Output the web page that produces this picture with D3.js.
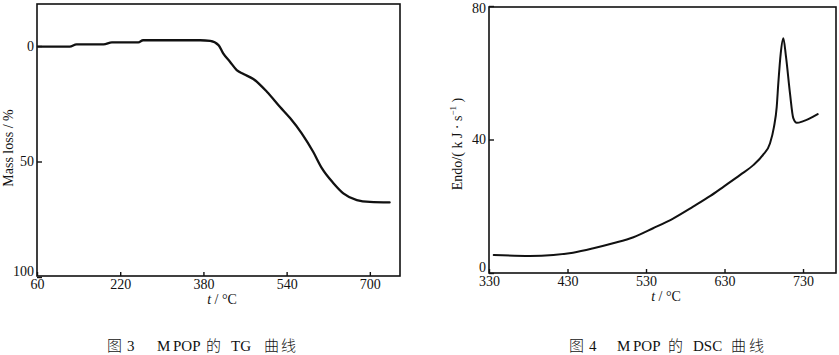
<!DOCTYPE html>
<html>
<head>
<meta charset="utf-8">
<script src="https://cdn.jsdelivr.net/npm/d3@7"></script>
<style>
  html, body { margin: 0; padding: 0; background: #fff; }
  svg { display: block; }
  text { font-family: "Liberation Serif", "DejaVu Serif", serif; fill: #111; }
</style>
</head>
<body>
<svg id="chart" width="839" height="355"></svg>
<script>
// ---- TG curve (Fig. 3) ----
const tgTemp = [62, 123, 136, 188, 204, 255, 264, 374, 393, 409, 418, 431, 444, 457, 476, 502, 527, 547, 569, 591, 608, 630, 649, 675, 700, 738];
const tgMass = [0.3, 0.3, -0.7, -0.7, -1.6, -1.6, -2.5, -2.5, -2.2, -0.4, 3.2, 6.8, 10.4, 12.1, 14.3, 19.8, 26.3, 31.3, 37.8, 45.8, 53, 59.4, 63.8, 66.7, 67.5, 67.7];
const tgXTicks = [60, 220, 380, 540, 700];
const tgYTicks = [0, 50, 100];

// ---- DSC curve (Fig. 4) ----
const dscTemp = [336, 382, 412, 437, 463, 488, 514, 539, 565, 590, 612, 629, 650, 667, 679, 688, 693, 696.5, 698.5, 701.6, 704.9, 708.3, 713.4, 717.6, 722, 730.4, 748.7];
const dscEndo = [5.4, 5.1, 5.4, 6.1, 7.4, 8.9, 10.7, 13.4, 16.4, 19.9, 23.1, 25.9, 29.4, 32.4, 35.4, 38.9, 43.8, 49.8, 56.8, 65.8, 70.3, 64.8, 53.8, 46.4, 45, 45.5, 47.6];
const dscXTicks = [330, 430, 530, 630, 730];
const dscYTicks = [0, 40, 80];

const svg = d3.select("#chart");

function panel(opts) {
  const g = svg.append("g");
  const x = d3.scaleLinear().domain(opts.xDomain).range([opts.left, opts.right]);
  const y = d3.scaleLinear().domain(opts.yDomain).range(opts.yRange);

  // frame
  g.append("rect")
    .attr("x", opts.left).attr("y", opts.top)
    .attr("width", opts.right - opts.left).attr("height", opts.bottom - opts.top)
    .attr("fill", "none").attr("stroke", "#111").attr("stroke-width", 1.6);

  // x axis
  const xa = g.append("g")
    .attr("transform", `translate(0,${opts.bottom})`)
    .call(d3.axisBottom(x).tickValues(opts.xTicks).tickSizeInner(-4).tickSizeOuter(0).tickPadding(3).tickFormat(d3.format("d")));
  xa.select(".domain").remove();
  xa.selectAll("line").attr("stroke", "#111").attr("stroke-width", 1.4);
  xa.selectAll("text").attr("font-size", 14).attr("font-family", "Liberation Serif").attr("fill", "#111");

  // y axis
  const ya = g.append("g")
    .attr("transform", `translate(${opts.left},0)`)
    .call(d3.axisLeft(y).tickValues(opts.yTicks).tickSizeInner(-5).tickSizeOuter(0).tickPadding(3).tickFormat(d3.format("d")));
  ya.select(".domain").remove();
  ya.selectAll("line").attr("stroke", "#111").attr("stroke-width", 1.4);
  ya.selectAll("text").attr("font-size", 14).attr("font-family", "Liberation Serif").attr("fill", "#111")
    .attr("dy", d => opts.yLabelShift(d));

  // curve
  const pts = opts.xs.map((t, i) => [t, opts.ys[i]]);
  g.append("path")
    .datum(pts)
    .attr("fill", "none").attr("stroke", "#111").attr("stroke-width", opts.lw)
    .attr("stroke-linejoin", "round").attr("stroke-linecap", "round")
    .attr("d", d3.line().x(d => x(d[0])).y(d => y(d[1])).curve(d3.curveMonotoneX));

  // x title: t / °C
  const xt = g.append("text")
    .attr("x", opts.xTitleX).attr("y", opts.bottom + 28)
    .attr("text-anchor", "middle").attr("font-size", 14);
  xt.append("tspan").attr("font-style", "italic").text("t");
  xt.append("tspan").text(" / °C");
  return g;
}

panel({
  left: 37, right: 400, top: 4, bottom: 276,
  xDomain: [60, 758], yDomain: [0, 100], yRange: [46, 277],
  xTicks: tgXTicks, yTicks: tgYTicks, xs: tgTemp, ys: tgMass, lw: 2.3,
  xTitleX: 222,
  yLabelShift: d => d === 100 ? "-0.1em" : "0.32em"
});

panel({
  left: 489, right: 836, top: 7, bottom: 273,
  xDomain: [330, 772], yDomain: [0, 80], yRange: [273, 6],
  xTicks: dscXTicks, yTicks: dscYTicks, xs: dscTemp, ys: dscEndo, lw: 2,
  xTitleX: 666,
  yLabelShift: d => d === 0 ? "-0.12em" : (d === 80 ? "0.45em" : "0.32em")
});

// y titles
svg.append("text")
  .attr("transform", "translate(13,148) rotate(-90)")
  .attr("text-anchor", "middle").attr("font-size", 14)
  .text("Mass loss / %");

const yt2 = svg.append("text")
  .attr("transform", "translate(462,144) rotate(-90)")
  .attr("text-anchor", "middle").attr("font-size", 14);
yt2.append("tspan").text("Endo/( k J · s");
yt2.append("tspan").attr("font-size", 9).attr("dy", -6).text("−1");
yt2.append("tspan").attr("dy", 6).text(" )");

// captions
function caption(parts) {
  const t = svg.append("text").attr("y", 351).attr("font-size", 15).attr("fill", "#222");
  parts.forEach(p => {
    t.append("tspan").attr("x", p[0])
      .attr("font-family", p[2] ? "'Noto Sans CJK SC'" : "'Liberation Serif'")
      .attr("font-weight", p[2] ? 300 : 400)
      .text(p[1]);
  });
}
caption([[107, "图", true], [127, "3", false], [157, "M", false], [173, "POP", false], [206, "的", true], [231, "TG", false], [264, "曲", true], [281, "线", true]]);
caption([[569, "图", true], [589, "4", false], [617, "M", false], [633, "POP", false], [668, "的", true], [693, "DSC", false], [731, "曲", true], [749, "线", true]]);
</script>
</body>
</html>
